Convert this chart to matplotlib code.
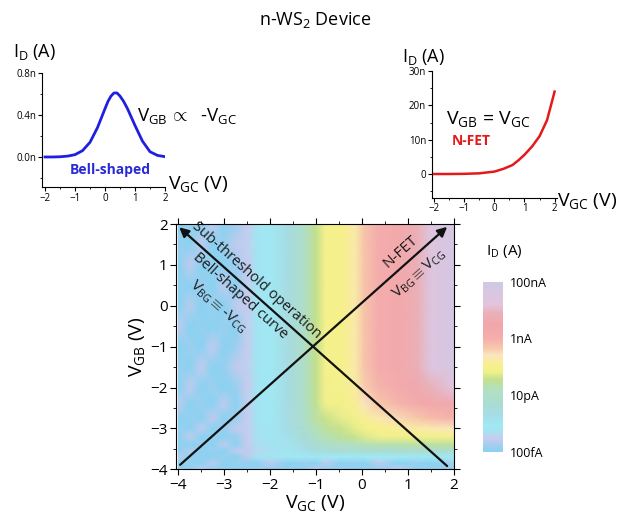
import numpy as np
import matplotlib
matplotlib.use("Agg")
import matplotlib.pyplot as plt
from matplotlib.colors import LinearSegmentedColormap, LogNorm

plt.rcParams['font.family'] = ['Open Sans', 'DejaVu Sans']
plt.rcParams['mathtext.fontset'] = 'custom'
plt.rcParams['mathtext.rm'] = 'Open Sans'
plt.rcParams['mathtext.it'] = 'Open Sans:italic'
plt.rcParams['mathtext.bf'] = 'Open Sans:bold'

# inset 1: bell-shaped transfer curve (V_GB ~ -V_GC)
bell_vgc = [-2.0, -1.75, -1.5, -1.25, -1.0, -0.75, -0.5, -0.25, 0.0, 0.1,
            0.2, 0.3, 0.4, 0.5, 0.62, 0.75, 1.0, 1.25, 1.5, 1.75, 2.0]
bell_id = [0.0, 0.0, 0.002, 0.008, 0.022, 0.06, 0.14, 0.28, 0.46, 0.53,
           0.58, 0.61, 0.61, 0.58, 0.53, 0.46, 0.30, 0.15, 0.05, 0.015, 0.003]

# inset 2: n-FET curve (V_GB = V_GC), nA
fet_vgc = [-2.0, -1.5, -1.0, -0.5, 0.0, 0.3, 0.6, 0.8, 1.0, 1.25, 1.5, 1.75, 2.0]
fet_id = [0.0, 0.0, 0.05, 0.2, 0.7, 1.5, 2.6, 4.0, 5.6, 8.0, 11.0, 15.7, 24.0]

# map: log10(I_D) on a V_GC x V_GB grid
vgc_grid = [-4.0, -3.75, -3.5, -3.25, -3.0, -2.75, -2.5,
            -2.3, -2.0, -1.6, -1.25, -1.0, -0.8, -0.45, -0.15, 0.05, 0.35,
            0.8, 1.2, 1.5, 2.0]
vgb_grid = [2.0, 1.5, 1.0, 0.5, 0.0, -0.5, -1.0, -1.5, -2.0, -2.4, -2.75,
            -3.0, -3.2, -3.4, -3.55, -3.7, -3.85, -4.0]

# noisy low-current floor, V_GC = -4 ... -2.5
floor_part = [
    [-13.0, -12.9, -13.0, -12.6, -13.0, -12.85, -12.55],
    [-12.85, -13.0, -12.6, -13.0, -12.85, -12.6, -12.5],
    [-13.0, -12.6, -13.0, -12.9, -13.0, -12.85, -12.55],
    [-12.9, -13.0, -12.85, -13.0, -12.6, -13.0, -12.5],
    [-13.0, -12.65, -13.0, -12.85, -13.0, -12.6, -12.55],
    [-12.6, -13.0, -12.9, -13.0, -12.85, -13.0, -12.5],
    [-13.0, -12.85, -13.0, -12.6, -13.0, -12.85, -12.55],
    [-12.85, -13.0, -12.6, -13.0, -12.9, -12.6, -12.5],
    [-13.0, -12.6, -13.0, -12.85, -13.0, -12.9, -12.55],
    [-12.6, -13.0, -12.85, -13.0, -12.6, -13.0, -12.5],
    [-13.0, -12.9, -13.0, -12.6, -13.0, -12.85, -12.55],
    [-12.85, -13.0, -12.6, -13.0, -12.85, -12.6, -12.5],
    [-13.0, -12.6, -13.0, -12.9, -13.0, -12.85, -12.55],
    [-12.9, -13.0, -12.85, -13.0, -12.6, -13.0, -12.55],
    [-13.0, -12.65, -13.0, -12.85, -13.0, -12.6, -12.6],
    [-12.6, -13.0, -12.9, -13.0, -12.85, -13.0, -12.6],
    [-13.0, -12.85, -13.0, -12.6, -13.0, -12.85, -12.9],
    [-12.85, -13.0, -12.6, -13.0, -12.9, -13.0, -12.95],
]

# V_GC = -2.3 ... 2.0; rows from V_GB = 2 down to -4
top_profile = [-12.25, -12.1, -11.6, -11.0, -10.45, -10.05, -10.0, -9.75,
               -9.3, -8.95, -8.7, -8.15, -7.6, -7.3]
active_part = [top_profile] * 8 + [
    [-12.25, -12.1, -11.6, -11.0, -10.47, -10.08, -10.03, -9.8, -9.4, -9.1, -8.85, -8.4, -8.1, -7.75],
    [-12.25, -12.1, -11.6, -11.02, -10.5, -10.15, -10.08, -9.9, -9.6, -9.35, -9.1, -8.8, -8.6, -8.4],
    [-12.25, -12.1, -11.65, -11.1, -10.6, -10.4, -10.25, -10.1, -9.9, -9.7, -9.5, -9.35, -9.2, -9.05],
    [-12.3, -12.15, -11.7, -11.2, -10.75, -10.55, -10.4, -10.25, -10.1, -9.95, -9.85, -9.75, -9.7, -9.62],
    [-12.3, -12.2, -11.8, -11.35, -10.95, -10.75, -10.55, -10.4, -10.3, -10.2, -10.12, -10.08, -10.05, -10.02],
    [-12.35, -12.25, -11.9, -11.55, -11.25, -11.05, -10.9, -10.8, -10.75, -10.7, -10.65, -10.62, -10.6, -10.58],
    [-12.4, -12.3, -12.0, -11.8, -11.6, -11.5, -11.4, -11.35, -11.32, -11.3, -11.3, -11.28, -11.28, -11.25],
    [-12.3, -12.2, -12.15, -12.1, -12.1, -12.1, -12.1, -12.1, -12.1, -12.1, -12.1, -12.1, -12.1, -12.05],
    [-13.0, -12.6, -13.0, -12.85, -13.0, -12.6, -13.0, -12.85, -13.0, -12.6, -13.0, -12.85, -13.0, -12.7],
    [-12.85, -13.0, -12.9, -13.0, -12.6, -13.0, -12.85, -13.0, -12.9, -13.0, -12.6, -13.0, -12.9, -13.0],
]

cbar_ticks = [1e-7, 1e-9, 1e-11, 1e-13]
cbar_labels = ['100nA', '1nA', '10pA', '100fA']

# pastel colour scale, stops given in log10(I)
stops = [(-13.0, '#8ad2f1'), (-12.75, '#a8cdee'), (-12.55, '#c8cbee'),
         (-12.3, '#a6e2f2'), (-12.1, '#a0e9f4'), (-11.7, '#a6dce6'),
         (-11.3, '#abdcd2'), (-10.8, '#b2e0c0'), (-10.45, '#c2e08c'),
         (-10.2, '#eef08c'), (-9.95, '#f8f08a'), (-9.6, '#f9e6c0'),
         (-9.35, '#f8c8aa'), (-9.0, '#f4aeac'), (-8.5, '#f2a6aa'),
         (-8.1, '#eab0b8'), (-7.8, '#e2c4dc'), (-7.0, '#cfc9e6')]
cmap = LinearSegmentedColormap.from_list(
    'pastel', [((v + 13.0) / 6.0, c) for v, c in stops])

W, H = 623, 519
fig = plt.figure(figsize=(W / 100, H / 100), dpi=100)


def fx(px):
    return px / W


def fy(py):
    return 1 - py / H


fig.text(fx(315), fy(20), r'n-WS$_2$ Device', ha='center', va='center', fontsize=13)

# ---- left inset
ax1 = fig.add_axes([fx(42), fy(187), 123 / W, 114 / H])
ax1.plot(bell_vgc, bell_id, color='#1f1fe0', lw=2)
ax1.set_xlim(-2.1, 2.0)
ax1.set_ylim(-0.286, 0.8)
ax1.set_xticks([-2, -1, 0, 1, 2])
ax1.set_xticks([-1.5, -0.5, 0.5, 1.5], minor=True)
ax1.set_yticks([0.0, 0.4, 0.8])
ax1.set_yticklabels(['0.0n', '0.4n', '0.8n'])
ax1.set_yticks([-0.2, 0.2, 0.6], minor=True)

# ---- right inset
ax2 = fig.add_axes([fx(431.7), fy(197.7), 125 / W, 126.7 / H])
ax2.plot(fet_vgc, fet_id, color='#e41a1a', lw=1.8)
ax2.set_xlim(-2.08, 2.07)
ax2.set_ylim(-6.9, 30)
ax2.set_xticks([-2, -1, 0, 1, 2])
ax2.set_xticks([-1.5, -0.5, 0.5, 1.5], minor=True)
ax2.set_yticks([0, 10, 20, 30])
ax2.set_yticklabels(['0', '10n', '20n', '30n'])
ax2.set_yticks([-5, 5, 15, 25], minor=True)

for a in (ax1, ax2):
    a.spines['top'].set_visible(False)
    a.spines['right'].set_visible(False)
    a.tick_params(which='major', labelsize=7, length=3, pad=1)
    a.tick_params(which='minor', length=1.5)
    a.set_facecolor('none')

fig.text(fx(13), fy(52), r'I$_\mathrm{D}$ (A)', ha='left', va='center', fontsize=13)
fig.text(fx(137), fy(116), r'V$_\mathrm{GB}\,\propto$  -V$_\mathrm{GC}$', ha='left',
         va='center', fontsize=13.5)
fig.text(fx(110), fy(170), 'Bell-shaped', ha='center', va='center', fontsize=10,
         color='#2a2ad8', fontweight='bold')
fig.text(fx(168), fy(184), r'V$_\mathrm{GC}$ (V)', ha='left', va='center', fontsize=14)

fig.text(fx(402), fy(57), r'I$_\mathrm{D}$ (A)', ha='left', va='center', fontsize=13)
fig.text(fx(446), fy(119), r'V$_\mathrm{GB}$ = V$_\mathrm{GC}$', ha='left', va='center', fontsize=14)
fig.text(fx(452), fy(141), 'N-FET', ha='left', va='center', fontsize=10,
         color='#e41a1a', fontweight='bold')
fig.text(fx(557), fy(201), r'V$_\mathrm{GC}$ (V)', ha='left', va='center', fontsize=14)

# ---- main map
ax = fig.add_axes([fx(176), fy(469.3), 278 / W, 245.3 / H])
Z = np.array([f + a for f, a in zip(floor_part, active_part)])
X, Y = np.meshgrid(vgc_grid, vgb_grid)
mesh = ax.pcolormesh(X, Y, 10.0 ** Z, shading='gouraud', cmap=cmap,
                     norm=LogNorm(vmin=1e-13, vmax=1e-7), rasterized=True)
ax.set_xlim(-4.05, 2.01)
ax.set_ylim(-4.0, 2.0)
ax.set_xticks(range(-4, 3))
ax.set_yticks(range(-4, 3))
ax.set_xticks(np.arange(-3.5, 2, 1.0), minor=True)
ax.set_yticks(np.arange(-3.5, 2, 1.0), minor=True)
ax.tick_params(which='both', top=True, right=True, direction='out')
ax.tick_params(which='major', labelsize=11, length=4, pad=2)
ax.tick_params(which='minor', length=2)
ax.set_xlabel(r'V$_\mathrm{GC}$ (V)', fontsize=14, labelpad=0)
ax.set_ylabel(r'V$_\mathrm{GB}$ (V)', fontsize=14, labelpad=2)

arrow = dict(arrowstyle='-|>', lw=1.6, color='#111111', mutation_scale=14,
             shrinkA=0, shrinkB=0)
ax.annotate('', xy=(1.86, 1.93), xytext=(-3.96, -3.89), arrowprops=arrow)
ax.annotate('', xy=(-3.98, 1.92), xytext=(1.86, -3.92), arrowprops=arrow)

ang = 41.8
tc = '#1a1a1a'
ax.text(-2.30, 0.62, 'Sub-threshold operation', rotation=-ang, ha='center',
        va='center', fontsize=10.5, color=tc)
ax.text(-2.65, 0.24, 'Bell-shaped curve', rotation=-ang, ha='center',
        va='center', fontsize=10.5, color=tc)
ax.text(-3.13, -0.02, r'V$_\mathrm{BG}\equiv$-V$_\mathrm{CG}$', rotation=-ang,
        ha='center', va='center', fontsize=11, color=tc)
ax.text(0.85, 1.32, 'N-FET', rotation=ang, ha='center', va='center',
        fontsize=11, color=tc)
ax.text(1.25, 0.79, r'V$_\mathrm{BG}\equiv$V$_\mathrm{CG}$', rotation=ang,
        ha='center', va='center', fontsize=11, color=tc)

# ---- colour bar
cax = fig.add_axes([fx(482.7), fy(451.7), 20 / W, 170 / H])
cb = fig.colorbar(mesh, cax=cax, ticks=cbar_ticks)
cb.ax.minorticks_off()
cb.ax.set_yticklabels(cbar_labels)
cb.ax.tick_params(length=0, labelsize=9, pad=5)
cb.outline.set_visible(False)
fig.text(fx(486), fy(251), r'I$_\mathrm{D}$ (A)', ha='left', va='center', fontsize=11)

fig.savefig('out.png', dpi=100)
